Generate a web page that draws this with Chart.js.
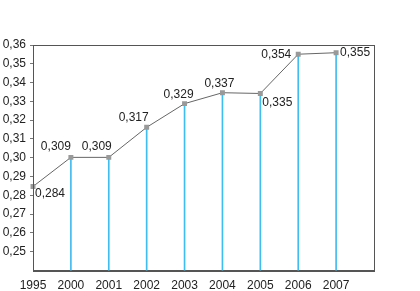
<!DOCTYPE html>
<html>
<head>
<meta charset="utf-8">
<script src="https://cdn.jsdelivr.net/npm/chart.js@4"></script>
<style>
  body { margin: 0; background: #fff; }
  #chart { display: block; }
</style>
</head>
<body>
<canvas id="chart" width="420" height="291"></canvas>
<script>
// years on the x axis (last slot is an empty spacer)
const years = ['1995', '2000', '2001', '2002', '2003', '2004', '2005', '2006', '2007', ''];
// plotted values, read from point positions
const values = [0.2847, 0.3002, 0.3002, 0.3162, 0.3288, 0.3346, 0.3342, 0.3551, 0.3559];
// printed value labels
const valueLabels = ['0,284', '0,309', '0,309', '0,317', '0,329', '0,337', '0,335', '0,354', '0,355'];
// y tick labels shown
const yTicks = [0.25, 0.26, 0.27, 0.28, 0.29, 0.30, 0.31, 0.32, 0.33, 0.34, 0.35, 0.36];

// where each value label sits relative to its point
const labelOffsets = [
  [17, 7], [-15, -11], [-12, -11], [-13, -10], [-6, -9],
  [-3, -9], [17, 9], [-22, 0], [19, 0]
];

const fmt = (v) => v.toFixed(2).replace('.', ',');
const fontFamily = '"Liberation Sans", Arial, sans-serif';

const framePlugin = {
  id: 'frame',
  afterDraw(chart) {
    const { ctx, chartArea: a } = chart;
    ctx.save();
    ctx.strokeStyle = '#555';
    ctx.lineWidth = 1;
    ctx.strokeRect(Math.round(a.left) + 0.5, Math.round(a.top) + 0.5,
      Math.round(a.right - a.left), Math.round(a.bottom - a.top));
    ctx.restore();
  }
};

const valueLabelPlugin = {
  id: 'valueLabels',
  afterDatasetsDraw(chart) {
    const { ctx } = chart;
    const meta = chart.getDatasetMeta(1);
    ctx.save();
    ctx.font = '12px ' + fontFamily;
    ctx.fillStyle = '#222';
    ctx.textAlign = 'center';
    ctx.textBaseline = 'middle';
    meta.data.forEach((pt, i) => {
      const [dx, dy] = labelOffsets[i];
      ctx.fillText(valueLabels[i], pt.x + dx, pt.y + dy);
    });
    ctx.restore();
  }
};

new Chart(document.getElementById('chart').getContext('2d'), {
  data: {
    labels: years,
    datasets: [
      {
        type: 'bar',
        data: values,
        backgroundColor: '#40bdf0',
        barThickness: 1,
        order: 2,
      },
      {
        type: 'line',
        data: values,
        borderColor: '#666',
        borderWidth: 1,
        pointStyle: 'rect',
        pointRadius: 3.5,
        pointBackgroundColor: '#999',
        pointBorderColor: '#999',
        pointBorderWidth: 0,
        tension: 0,
        order: 1,
      },
    ],
  },
  options: {
    responsive: false,
    animation: false,
    layout: { padding: { left: 2, right: 46, top: 45, bottom: 0 } },
    plugins: { legend: { display: false }, tooltip: { enabled: false } },
    scales: {
      x: {
        type: 'category',
        offset: false,
        afterFit: (axis) => { axis.height = 20.5; },
        grid: { display: false, drawTicks: false },
        border: { display: true, color: '#555', width: 1 },
        ticks: {
          color: '#222',
          padding: 8,
          maxRotation: 0,
          autoSkip: false,
          font: { size: 12, family: fontFamily },
        },
      },
      y: {
        min: 0.24,
        max: 0.36,
        afterFit: (axis) => { axis.width = 31; },
        afterBuildTicks: (axis) => {
          axis.ticks = yTicks.map((v) => ({ value: v }));
        },
        grid: { drawOnChartArea: false, drawTicks: true, tickLength: 3, color: '#777' },
        border: { display: true, color: '#555', width: 1 },
        ticks: {
          color: '#222',
          padding: 4,
          callback: (v) => fmt(v),
          font: { size: 12, family: fontFamily },
        },
      },
    },
  },
  plugins: [framePlugin, valueLabelPlugin],
});
</script>
</body>
</html>
